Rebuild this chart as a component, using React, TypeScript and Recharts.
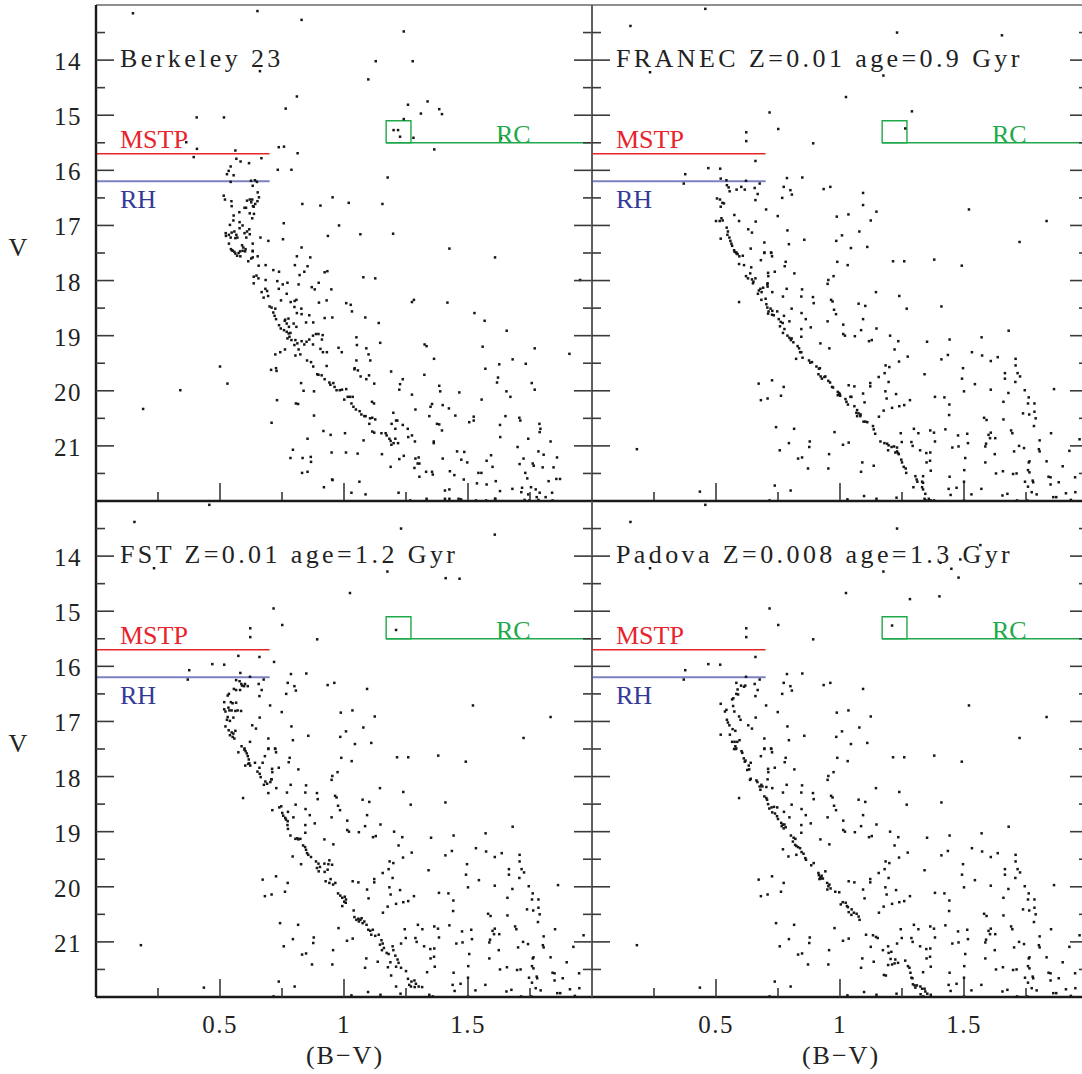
import React from 'react';
import { ScatterChart, Scatter, XAxis, YAxis, ReferenceLine, ReferenceArea } from 'recharts';

// ---------- axis / annotation values ----------
const X_DOMAIN: [number, number] = [0, 2];
const Y_DOMAIN: [number, number] = [13, 22];
const X_TICKS = [0.25, 0.5, 0.75, 1, 1.25, 1.5, 1.75];
const X_TICK_LABELS: Record<string, string> = { '0.5': '0.5', '1': '1', '1.5': '1.5' };
const Y_TICKS = [13.5, 14, 14.5, 15, 15.5, 16, 16.5, 17, 17.5, 18, 18.5, 19, 19.5, 20, 20.5, 21, 21.5];
const Y_TICK_LABELS: Record<string, string> = { '14': '14', '15': '15', '16': '16', '17': '17', '18': '18', '19': '19', '20': '20', '21': '21' };

const MSTP_V = 15.7;
const RH_V = 16.2;
const LINE_END_COLOR = 0.7;
const RC_BOX = { x1: 1.17, x2: 1.27, v1: 15.1, v2: 15.5 };
const RC_LINE_END = 2.0;

const TITLES = ['Berkeley 23', 'FRANEC Z=0.01 age=0.9 Gyr', 'FST Z=0.01 age=1.2 Gyr', 'Padova Z=0.008 age=1.3 Gyr'];

// ---------- data: [B-V, V] ----------
const BERKELEY: number[][] = [
  [0.149,13.15],[0.651,13.11],[0.829,13.27],[1.241,13.48],[1.128,14.02],[1.277,14.02],[0.661,14.20],[1.098,14.35],[0.810,14.66],[0.765,14.88],[1.258,14.81],[1.337,14.75],[1.310,14.97],[1.384,14.89],[1.395,14.98],[1.241,15.07],[1.200,15.27],[1.218,15.27],[1.226,15.39],[1.280,15.41],[1.633,15.42],[1.364,15.62],[0.406,15.04],[0.516,15.04],[0.364,15.49],[0.407,15.61],[0.394,15.76],[0.562,15.64],[0.737,15.58],[0.758,15.57],[0.813,15.69],[0.733,15.99],[0.788,15.99],[0.667,15.78],[0.566,15.79],[0.583,15.84],[0.617,15.87],[0.543,15.93],[0.535,16.01],[0.528,16.07],[0.555,16.09],[0.543,16.21],[0.625,16.19],[0.641,16.18],[0.649,16.21],[0.632,16.28],[0.652,16.40],[0.657,16.49],[0.651,16.56],[0.642,16.61],[0.636,16.66],[0.630,16.53],[0.626,16.58],[0.633,16.65],[0.515,16.46],[0.520,16.53],[0.546,16.56],[0.547,16.65],[0.609,16.55],[0.620,16.53],[0.599,16.68],[0.605,16.68],[0.620,16.78],[0.637,16.79],[0.630,16.87],[0.555,16.82],[0.554,16.91],[0.578,16.76],[0.579,16.94],[0.540,16.99],[0.547,17.13],[0.558,17.11],[0.566,17.17],[0.570,17.22],[0.562,17.23],[0.579,17.05],[0.591,17.00],[0.599,17.14],[0.609,17.11],[0.618,17.07],[0.620,17.16],[0.606,17.22],[0.523,17.14],[0.524,17.19],[0.536,17.17],[0.543,17.22],[0.536,17.33],[0.544,17.43],[0.551,17.46],[0.562,17.51],[0.575,17.50],[0.589,17.36],[0.594,17.40],[0.603,17.43],[0.632,17.33],[0.632,17.46],[0.663,17.22],[0.695,17.28],[0.754,17.25],[0.757,16.96],[0.832,16.61],[0.905,16.64],[0.954,16.49],[1.019,16.59],[1.155,16.61],[1.176,16.13],[0.980,17.00],[0.935,17.19],[1.066,17.16],[1.198,17.15],[0.829,17.40],[1.425,17.42],
  [0.548,17.45],[0.558,17.48],[0.581,17.47],[0.591,17.46],[0.601,17.47],[0.632,17.47],[0.569,17.55],[0.582,17.56],[0.614,17.65],[0.626,17.60],[0.632,17.58],[0.652,17.56],[0.810,17.56],[0.864,17.58],[0.656,17.73],[0.684,17.72],[0.715,17.81],[0.738,17.84],[0.802,17.72],[0.821,17.90],[0.840,17.84],[0.853,17.74],[0.922,17.85],[0.933,17.83],[1.078,17.94],[1.126,17.96],[1.609,17.58],[0.636,17.93],[0.647,17.91],[0.655,17.96],[0.636,18.05],[0.684,17.99],[0.731,18.01],[0.753,18.07],[0.772,18.04],[0.668,18.21],[0.683,18.15],[0.690,18.19],[0.676,18.31],[0.694,18.28],[0.737,18.15],[0.769,18.24],[0.817,18.07],[0.870,18.12],[0.882,18.16],[0.898,18.04],[0.949,18.16],[0.700,18.47],[0.708,18.49],[0.715,18.58],[0.723,18.51],[0.746,18.36],[0.785,18.39],[0.801,18.37],[0.808,18.35],[0.828,18.51],[0.800,18.48],[0.810,18.59],[0.829,18.61],[0.899,18.40],[0.930,18.36],[0.922,18.68],[0.953,18.67],[1.009,18.41],[1.027,18.44],[1.032,18.56],[1.086,18.67],[1.140,18.77],[1.274,18.39],[1.282,18.35],[1.417,18.40],[1.526,18.59],[1.567,18.73],[1.656,18.91],[0.720,18.64],[0.726,18.70],[0.738,18.81],[0.745,18.87],[0.761,18.73],[0.763,18.71],[0.769,18.78],[0.776,18.69],[0.758,18.90],[0.778,18.84],[0.797,18.78],[0.808,18.84],[0.847,18.76],[0.860,18.63],[0.876,18.76],[0.769,18.93],[0.777,18.96],[0.784,18.95],[0.772,19.05],[0.780,19.02],[0.788,19.08],[0.804,19.08],[0.812,19.14],[0.800,19.17],[0.817,19.25],[0.829,19.10],[0.840,19.16],[0.849,19.11],[0.860,19.07],[0.875,19.00],[0.887,18.97],[0.897,18.97],[0.914,18.99],[0.911,19.07],[0.875,19.16],[0.723,19.34],[0.743,19.30],[0.762,19.25],[0.804,19.36],[0.824,19.34],[0.851,19.45],[0.867,19.48],[0.876,19.56],[0.892,19.70],[0.897,19.71],[0.910,19.72],[0.930,19.55],[0.905,19.24],[0.915,19.30],[0.931,19.30],[0.978,19.22],[0.991,19.30],[1.050,19.03],[1.052,19.17],[1.090,19.23],[1.099,19.34],[1.106,19.45],[1.050,19.45],[1.043,19.59],[1.042,19.61],[1.056,19.63],[1.067,19.74],[1.090,19.79],[1.101,19.72],[1.122,19.87],[1.146,19.13],[1.190,19.65],[1.226,19.88],[1.237,19.79],[1.223,19.98],[1.274,20.07],[1.288,20.34],[1.325,19.16],[1.333,19.19],[1.363,19.42],[1.324,19.71],[0.500,19.56],[0.530,19.87],[0.340,19.99],[0.190,20.33],[0.706,19.62],[0.726,19.59],[0.728,19.64],[0.730,20.17],[0.708,20.58],[0.827,19.86],[0.837,20.00],[0.806,20.23],[0.815,20.24],[0.879,20.01],[0.879,20.45],[0.917,20.73],[0.946,20.80],[0.950,21.12],[0.853,20.87],[0.866,21.20],[0.867,21.29],[0.833,21.22],[0.831,21.49],[0.853,21.47],[0.919,21.75],[0.952,21.61],[0.954,21.62],[0.794,21.07],[0.784,21.22],
  [0.922,19.79],[0.941,19.85],[0.945,19.89],[0.957,19.86],[0.962,19.93],[0.970,19.99],[0.983,19.99],[0.992,19.98],[1.009,19.97],[1.001,20.16],[1.015,20.11],[1.024,20.11],[1.035,20.11],[1.030,20.23],[1.038,20.29],[1.048,20.34],[1.063,20.37],[1.070,20.43],[1.082,20.46],[1.087,20.46],[1.105,20.50],[1.114,20.49],[1.126,20.52],[1.102,20.60],[1.114,20.74],[1.122,20.76],[1.151,20.77],[1.168,20.77],[1.172,20.81],[1.183,20.87],[1.188,20.91],[1.191,20.98],[1.200,20.95],[1.207,20.87],[1.218,20.95],[1.210,20.54],[1.215,20.54],[1.199,20.40],[1.192,20.60],[1.207,20.69],[1.237,20.62],
  [1.113,20.20],[1.121,20.23],[1.079,20.90],[1.087,21.88],[1.030,21.85],[1.062,21.65],[1.004,20.77],[1.008,21.12],[1.055,21.14],[1.153,21.15],[1.188,21.38],[1.223,21.24],[1.220,21.85],[1.241,21.18],[1.257,20.69],[1.274,20.81],[1.259,20.84],[1.286,20.92],[1.288,21.23],[1.297,21.32],[1.304,21.32],[1.304,21.56],[1.284,21.40],[1.301,21.21],[1.331,21.47],[1.344,20.46],[1.349,20.29],[1.355,20.24],[1.362,20.92],[1.362,20.95],[1.355,21.47],[1.358,21.52],[1.375,20.60],[1.384,20.61],[1.395,20.72],[1.398,21.23],[1.384,19.91],[1.388,20.01],[1.398,20.26],[1.423,20.32],[1.427,21.46],[1.425,21.79],[1.407,21.81],[1.445,21.53],[1.465,20.03],[1.449,20.45],[1.456,21.10],[1.473,21.25],[1.483,21.61],[1.485,21.11],[1.497,21.30],[1.505,20.57],[1.523,20.47],[1.523,20.54],
  [1.542,21.49],[1.554,21.49],[1.536,21.68],[1.555,20.16],[1.559,19.20],[1.570,19.60],[1.575,21.27],[1.593,21.17],[1.599,21.38],[1.575,21.70],[1.612,21.64],[1.609,21.96],[1.617,19.85],[1.621,19.76],[1.626,19.52],[1.629,20.62],[1.630,20.84],[1.629,21.82],[1.651,20.46],[1.655,20.01],[1.671,20.11],[1.680,19.43],[1.679,21.78],[1.700,21.02],[1.707,20.49],[1.711,20.54],[1.708,21.33],[1.718,21.76],[1.715,21.84],[1.733,19.51],[1.739,21.59],[1.743,20.87],[1.743,21.88],[1.757,19.86],[1.761,21.32],[1.765,21.36],[1.769,19.98],[1.769,19.23],[1.784,21.10],[1.788,20.60],[1.792,20.69],[1.789,20.75],[1.789,21.85],[1.801,21.39],[1.805,21.16],[1.825,21.64],[1.833,20.92],[1.845,21.39],[1.839,21.85],[1.856,21.60],[1.859,21.21],[1.871,21.60],[1.909,19.33],[1.952,17.99],[1.724,21.23],[1.731,21.49],[1.728,21.98],[1.747,21.99],[1.784,21.98],[1.754,21.75],[1.773,21.79],[1.777,21.93],[1.813,21.93],[1.841,21.99],
  [1.267,21.99],[1.333,21.96],[1.407,21.96],[1.425,21.96],[1.462,21.96],[1.472,21.97],[1.532,21.99],[1.573,21.99],[1.610,21.96],
];

// field stars shared by the three synthetic CMDs
const FIELD: number[][] = [
  [0.155,13.38],[0.457,13.07],[1.230,13.50],[0.234,14.22],[1.175,14.28],[1.024,14.67],[0.716,14.95],[0.751,15.25],[0.622,15.31],[0.622,15.47],[0.892,15.51],[0.659,15.83],[0.469,15.96],[0.517,15.97],[0.376,16.07],[0.370,16.24],[0.786,16.14],[0.848,16.13],[0.773,16.30],[0.800,16.36],[0.806,16.44],[0.767,16.50],[0.934,16.34],[0.961,16.30],[1.093,16.41],[1.520,16.71],[1.833,16.92],[0.702,16.71],[0.749,16.83],[0.987,16.84],[1.034,16.80],[1.124,16.91],[0.660,16.93],[0.788,17.09],[1.078,17.11],[1.008,17.18],[0.985,17.28],[0.856,17.26],[0.794,17.34],[1.044,17.41],[1.110,17.39],[1.724,17.30],[0.695,17.31],[0.722,17.49],[0.695,17.49],[0.630,17.07],[0.645,17.13],[0.656,16.32],[0.668,16.43],[0.659,16.54],[0.676,16.24],[0.621,16.19],
  [0.695,17.50],[0.723,17.50],[0.726,17.56],[0.681,17.63],[0.781,17.66],[0.777,17.74],[0.737,17.84],[0.710,17.86],[0.711,17.92],[0.816,17.87],[0.989,17.66],[1.031,17.72],[1.214,17.65],[1.259,17.65],[1.380,17.62],[1.491,17.73],[0.953,17.99],[0.950,18.06],[0.974,17.92],[0.708,18.05],[0.785,18.15],[0.847,18.16],[0.727,18.21],[0.593,18.39],[0.770,18.29],[0.844,18.29],[0.891,18.30],[0.894,18.41],[0.964,18.35],[0.970,18.38],[1.145,18.21],[1.239,18.28],[1.075,18.42],[1.102,18.46],[1.409,18.47],[1.269,18.51],[0.976,18.53],[0.984,18.61],[0.845,18.59],[0.805,18.51],[0.774,18.64],[0.796,18.74],[0.862,18.70],[0.950,18.74],[1.093,18.70],[1.013,18.80],[0.844,18.88],[0.882,18.85],[1.085,18.90],[1.147,18.87],[1.013,18.97],[1.020,19.00],[1.060,19.01],[0.844,19.02],[0.921,19.14],[0.957,19.23],[1.117,19.10],[1.128,19.08],[1.202,19.00],[1.235,19.10],[1.220,19.25],[1.351,19.11],[1.442,19.07],[1.680,18.91],[1.571,19.03],[1.532,19.30],[1.573,19.36],[1.608,19.46],[1.636,19.39],[1.708,19.42],[1.708,19.54],[1.665,19.68],[1.665,19.78],[1.716,19.68],[1.726,19.74],[1.707,19.84],[1.745,19.99],[1.863,19.97],[1.679,20.04],[1.761,20.12],[1.758,20.23],[1.784,20.23],[1.659,20.20],[1.409,19.43],[1.435,19.35],[1.273,19.38],[1.238,19.47],[1.184,19.54],[1.199,19.57],[1.156,19.75],[1.180,19.68],[1.196,19.84],[1.341,19.70],[1.496,19.59],[1.492,19.78],[1.500,20.01],[1.544,19.88],[1.608,19.98],[1.383,20.11],[1.421,20.12],[1.441,20.25],[1.440,20.44],[1.282,20.17],[1.259,20.26],[1.239,20.28],[1.210,20.31],[1.226,20.06],[1.183,20.01],[1.188,20.14],[1.122,19.86],[1.122,19.92],[1.093,20.05],[1.099,20.21],[1.157,20.47],[1.176,20.36],[1.058,19.92],[1.035,19.90],[0.978,20.75],[1.012,20.98],[1.035,20.94],[0.956,21.15],[0.953,21.41],[0.871,21.41],[0.831,21.23],[0.847,21.21],[0.878,20.92],[0.876,21.02],[0.794,20.95],[0.757,21.08],[0.815,20.69],[0.742,20.66],[0.726,19.81],[0.762,20.09],[0.773,19.93],[0.672,19.87],[0.681,20.17],[0.708,20.14],[0.181,21.06],[0.435,21.83],[0.737,21.72],[0.716,21.99],[0.801,21.81],[1.030,21.97],[1.097,21.91],[1.085,21.47],[1.090,21.30],[1.136,21.36],[1.147,21.96],[1.228,21.94],[1.366,21.45],[1.335,21.55],[1.349,21.30],[1.363,21.27],[1.348,21.13],[1.364,21.12],[1.323,21.08],[1.293,21.00],[1.298,20.69],[1.316,20.77],[1.288,20.93],[1.245,20.77],[1.249,20.93],[1.230,21.03],[1.364,20.72],[1.379,20.76],[1.383,20.92],[1.425,20.70],[1.453,21.03],[1.476,20.81],[1.478,21.01],[1.513,20.78],[1.516,20.95],[1.505,21.22],[1.501,21.44],[1.500,21.65],[1.442,21.56],[1.438,21.78],[1.446,21.89],[1.470,21.76],[1.500,21.99],[1.530,21.88],[1.570,21.78],[1.586,21.30],[1.589,20.96],[1.586,21.01],[1.599,20.80],[1.608,20.76],[1.605,20.86],[1.626,20.86],[1.624,21.15],[1.629,21.50],[1.657,21.46],[1.655,21.90],[1.675,21.87],[1.581,20.49],[1.591,20.53],[1.659,20.52],[1.690,20.72],[1.695,20.77],[1.702,21.10],[1.722,21.00],[1.742,21.04],[1.738,20.41],[1.763,20.43],[1.784,20.38],[1.789,20.50],[1.782,20.64],[1.805,20.90],[1.802,21.06],[1.805,21.10],[1.761,21.30],[1.764,21.28],[1.758,21.44],[1.764,21.48],[1.698,21.51],[1.712,21.50],[1.746,21.65],[1.758,21.74],[1.777,21.63],[1.779,21.66],[1.773,21.84],[1.793,21.88],[1.755,21.99],[1.714,21.99],[1.833,21.28],[1.851,20.77],[1.898,21.37],[1.925,21.09],[1.966,20.88],[1.948,21.57],[1.882,21.66],[1.841,21.56],[1.849,21.57],[1.849,21.70],[1.911,21.86],[1.949,21.84],[1.860,21.93],[1.872,21.93],[1.931,21.98],
];

const FRANEC_SEQ: number[][] = [
  [1.653,13.55],[1.290,14.93],[1.263,15.24],[1.093,16.63],[1.147,16.75],
  [0.519,16.15],[0.542,16.18],[0.544,16.27],[0.551,16.31],[0.555,16.38],[0.583,16.35],[0.602,16.30],[0.616,16.35],[0.504,16.51],[0.516,16.53],[0.526,16.59],[0.532,16.60],[0.519,16.66],[0.500,16.92],[0.515,16.92],[0.522,16.87],[0.527,16.91],[0.574,16.81],[0.593,16.92],[0.543,17.04],[0.548,17.11],[0.546,17.17],[0.554,17.22],[0.558,17.28],[0.562,17.33],[0.565,17.37],[0.573,17.45],[0.582,17.49],[0.587,17.52],[0.519,17.24],[0.640,17.42],
  [0.575,17.48],[0.583,17.51],[0.594,17.56],[0.608,17.55],[0.593,17.70],[0.613,17.72],[0.642,17.76],[0.621,17.92],[0.629,17.96],[0.638,17.87],[0.645,17.98],[0.651,18.02],[0.659,17.96],[0.649,18.05],[0.669,18.24],[0.673,18.18],[0.679,18.15],[0.684,18.21],[0.690,18.13],[0.683,18.35],[0.707,18.07],[0.708,18.11],[0.700,18.33],[0.703,18.43],[0.707,18.49],[0.712,18.56],[0.720,18.51],[0.710,18.60],[0.726,18.62],[0.733,18.63],[0.727,18.55],[0.747,18.56],[0.753,18.70],[0.761,18.75],[0.758,18.83],[0.769,18.77],[0.776,18.88],[0.770,18.95],[0.788,19.00],[0.796,19.04],[0.805,19.05],[0.802,19.08],[0.812,19.12],[0.829,19.19],[0.835,19.23],[0.839,19.30],[0.844,19.30],[0.823,19.42],[0.849,19.40],[0.875,19.45],[0.880,19.49],[0.887,19.48],[0.905,19.56],[0.915,19.60],[0.919,19.59],[0.913,19.70],[0.922,19.74],[0.927,19.78],[0.937,19.75],[0.941,19.74],[0.953,19.82],[0.960,19.85],[0.968,19.93],[0.972,19.94],[0.991,20.02],[0.996,20.04],[0.999,20.06],[0.991,20.08],[1.001,20.09],[1.022,20.15],[1.026,20.20],[1.032,20.25],[1.042,20.11],[1.046,20.11],[1.058,20.28],[1.069,20.35],[1.066,20.40],[1.075,20.41],[1.082,20.46],[1.069,20.46],[1.083,20.43],[1.095,20.56],[1.102,20.56],[1.110,20.57],[1.133,20.64],[1.136,20.70],[1.142,20.78],[1.163,20.92],[1.179,20.95],[1.190,20.96],[1.196,20.99],[1.208,21.02],[1.218,21.01],[1.194,21.08],[1.223,21.12],[1.230,21.10],[1.237,21.15],[1.234,21.13],[1.247,21.25],[1.250,21.30],[1.257,21.38],[1.265,21.41],[1.267,21.49],[1.304,21.55],[1.309,21.61],[1.331,21.65],[1.335,21.67],[1.331,21.75],[1.335,21.79],[1.344,21.87],[1.341,21.96],[1.358,21.96],[1.366,21.99],[1.379,21.99],[1.347,21.99],[1.296,21.75],[1.312,21.65],
];

const FST_SEQ: number[][] = [
  [1.410,14.40],[1.466,14.41],[1.608,13.61],[1.210,15.34],[0.574,15.81],[0.718,15.92],
  [0.582,16.12],[0.565,16.25],[0.579,16.27],[0.586,16.32],[0.601,16.32],[0.612,16.36],[0.597,16.36],[0.589,16.35],[0.581,16.43],[0.565,16.43],[0.556,16.41],[0.536,16.50],[0.531,16.53],[0.517,16.65],[0.544,16.65],[0.551,16.67],[0.565,16.66],[0.517,16.78],[0.522,16.82],[0.534,16.75],[0.538,16.80],[0.547,16.80],[0.562,16.81],[0.571,16.80],[0.585,16.81],[0.531,16.92],[0.554,16.93],[0.528,16.97],[0.540,16.99],[0.522,17.09],[0.535,17.16],[0.547,17.20],[0.554,17.22],[0.562,17.17],[0.551,17.28],[0.540,17.25],[0.558,17.31],[0.587,17.45],[0.599,17.49],[0.621,17.37],
  [0.574,17.56],[0.598,17.51],[0.603,17.54],[0.608,17.58],[0.612,17.63],[0.616,17.69],[0.618,17.76],[0.622,17.80],[0.614,17.77],[0.602,17.80],[0.641,17.75],[0.659,17.84],[0.651,17.91],[0.660,17.95],[0.664,18.01],[0.672,17.75],[0.677,18.15],[0.683,18.09],[0.690,18.13],[0.703,18.10],[0.707,18.05],[0.695,18.30],[0.711,18.61],[0.739,18.56],[0.747,18.54],[0.751,18.66],[0.755,18.71],[0.763,18.75],[0.766,18.78],[0.773,18.81],[0.772,18.88],[0.774,18.95],[0.784,19.07],[0.804,19.13],[0.812,19.12],[0.816,19.14],[0.824,19.13],[0.793,19.45],[0.827,19.59],[0.835,19.25],[0.843,19.28],[0.847,19.33],[0.851,19.39],[0.856,19.42],[0.867,19.46],[0.887,19.54],[0.897,19.58],[0.891,19.66],[0.903,19.64],[0.898,19.72],[0.921,19.58],[0.937,19.59],[0.941,19.52],[0.952,19.60],[0.934,19.69],[0.922,19.73],[0.926,19.90],[0.941,19.93],[0.956,19.96],[0.965,19.93],[0.946,19.86],[0.976,20.12],[0.985,20.16],[0.993,20.20],[1.003,20.18],[1.008,20.23],[1.001,20.27],[0.993,20.35],[1.007,20.29],[1.039,20.43],[1.042,20.55],[1.050,20.60],[1.058,20.58],[1.066,20.60],[1.071,20.57],[1.075,20.66],[1.082,20.63],[1.091,20.69],[1.060,20.63],[1.098,20.78],[1.106,20.80],[1.116,20.78],[1.110,20.87],[1.126,20.89],[1.140,20.87],[1.151,20.97],[1.156,21.03],[1.145,21.05],[1.161,21.11],[1.153,21.15],[1.172,21.20],[1.180,21.22],[1.196,21.08],[1.199,21.15],[1.207,21.25],[1.216,21.32],[1.220,21.38],[1.210,21.45],[1.187,21.37],[1.177,21.46],[1.190,21.61],[1.230,21.47],[1.250,21.53],[1.258,21.67],[1.263,21.78],[1.272,21.72],[1.284,21.70],[1.290,21.76],[1.301,21.81],[1.315,21.82],[1.270,21.81],[1.285,21.82],[1.210,21.81],[1.344,21.96],[1.358,21.99],
];

const PADOVA_SEQ: number[][] = [
  [1.405,14.12],[1.449,14.23],[1.478,14.39],[1.485,14.06],[1.282,14.78],[1.401,14.73],[1.566,13.80],[1.210,15.26],
  [0.582,16.30],[0.601,16.35],[0.613,16.37],[0.618,16.35],[0.587,16.42],[0.582,16.50],[0.589,16.51],[0.519,16.68],[0.565,16.60],[0.570,16.58],[0.569,16.72],[0.542,16.79],[0.536,16.82],[0.574,16.82],[0.593,16.91],[0.599,16.97],[0.544,16.97],[0.548,17.02],[0.554,17.07],[0.567,17.14],[0.578,17.17],[0.556,17.24],[0.519,17.24],[0.565,17.37],[0.575,17.37],[0.586,17.37],[0.595,17.34],[0.578,17.45],[0.582,17.49],[0.573,17.50],
  [0.579,17.50],[0.603,17.54],[0.606,17.57],[0.612,17.67],[0.616,17.73],[0.619,17.71],[0.640,17.75],[0.632,17.80],[0.626,17.88],[0.634,17.87],[0.640,18.04],[0.637,18.06],[0.663,18.07],[0.667,18.10],[0.676,18.18],[0.683,18.15],[0.687,18.18],[0.679,18.24],[0.703,18.19],[0.695,18.36],[0.703,18.39],[0.706,18.42],[0.710,18.50],[0.715,18.58],[0.724,18.56],[0.734,18.55],[0.747,18.56],[0.727,18.65],[0.738,18.67],[0.746,18.72],[0.750,18.77],[0.763,18.84],[0.769,18.87],[0.776,18.87],[0.765,18.90],[0.773,18.94],[0.781,18.92],[0.770,19.32],[0.792,19.45],[0.802,19.07],[0.813,19.11],[0.820,19.13],[0.810,19.18],[0.819,19.24],[0.824,19.26],[0.831,19.28],[0.839,19.30],[0.824,19.42],[0.845,19.37],[0.853,19.40],[0.860,19.48],[0.863,19.51],[0.884,19.61],[0.894,19.57],[0.913,19.75],[0.915,19.79],[0.921,19.83],[0.926,19.80],[0.917,19.86],[0.923,19.85],[0.931,19.85],[0.941,19.72],[0.948,19.93],[0.953,19.99],[0.957,19.96],[0.949,20.05],[0.962,20.03],[0.981,20.09],[0.997,20.10],[1.003,20.32],[1.011,20.28],[1.023,20.29],[1.028,20.35],[1.035,20.46],[1.046,20.51],[1.056,20.47],[1.067,20.49],[1.075,20.54],[1.079,20.60],[1.032,20.37],[1.047,20.41],[1.105,20.87],[1.133,20.88],[1.152,20.93],[1.145,20.91],[1.124,21.09],[1.173,21.15],[1.194,21.08],[1.196,21.20],[1.207,21.18],[1.204,21.31],[1.223,21.32],[1.210,21.41],[1.220,21.39],[1.234,21.38],[1.194,21.42],[1.177,21.60],[1.185,21.61],[1.263,21.34],[1.274,21.44],[1.280,21.47],[1.284,21.56],[1.288,21.65],[1.292,21.66],[1.294,21.77],[1.301,21.79],[1.310,21.79],[1.324,21.81],[1.331,21.85],[1.341,21.85],[1.344,21.90],[1.352,21.94],[1.366,21.96],[1.304,21.83],[1.325,21.95],[1.336,21.99],
];

// ---------- styling ----------
const FONT = '"Liberation Serif", "DejaVu Serif", serif';
const AXIS_COLOR = '#1a1a1a';
const DIVIDER_COLOR = '#5a5a5a';
const TICK_COLOR = '#3a3a3a';
const RED = '#e8242c';
const BLUE_LINE = '#7c80c0';
const BLUE_TEXT = '#343a96';
const GREEN = '#1fa84a';
const PLOT = 496;

const toPts = (arr: number[][]) => arr.map(([x, y]) => ({ x, y }));

const isMajorX = (v: number) => Math.abs(v * 2 - Math.round(v * 2)) < 1e-6;
const isMajorY = (v: number) => Math.abs(v - Math.round(v)) < 1e-6;

const makeTick = (side: 'bottom' | 'top' | 'left' | 'right', showLabel: boolean) => (props: any) => {
  const { x, y, payload } = props;
  const v = payload.value as number;
  const horizontal = side === 'bottom' || side === 'top';
  const major = horizontal ? isMajorX(v) : isMajorY(v);
  const len = major ? 18 : 9;
  let x2 = x, y2 = y;
  if (side === 'bottom') y2 = y - len;
  if (side === 'top') y2 = y + len;
  if (side === 'left') x2 = x + len;
  if (side === 'right') x2 = x - len;
  const key = String(v);
  let label: React.ReactNode = null;
  if (showLabel) {
    if (side === 'bottom' && X_TICK_LABELS[key]) {
      label = (
        <text x={x} y={y + 36} textAnchor="middle" fontFamily={FONT} fontSize={25} letterSpacing={1.5} fill="#222">
          {X_TICK_LABELS[key]}
        </text>
      );
    }
    if (side === 'left' && Y_TICK_LABELS[key]) {
      label = (
        <text x={x - 14} y={y + 10} textAnchor="end" fontFamily={FONT} fontSize={25} letterSpacing={1.5} fill="#222">
          {Y_TICK_LABELS[key]}
        </text>
      );
    }
  }
  return (
    <g>
      <line x1={x} y1={y} x2={x2} y2={y2} stroke={TICK_COLOR} strokeWidth={1.6} />
      {label}
    </g>
  );
};

const Dot = (props: any) => {
  const { cx, cy } = props;
  if (cx == null || cy == null) return null;
  return <rect x={cx - 1.25} y={cy - 1.25} width={2.5} height={2.5} fill="#161616" />;
};

type PanelProps = {
  stars: number[][];
  plotLeft: number;
  plotTop: number;
  isTop: boolean;
  isLeft: boolean;
};

const Panel = ({ stars, plotLeft, plotTop, isTop, isLeft }: PanelProps) => {
  const showX = !isTop;
  const showY = isLeft;
  const leftW = isLeft ? 96 : 1;
  const rightW = 1;
  const topH = 1;
  const bottomH = isTop ? 1 : 77;
  const marginTop = isTop ? 4 : 0;
  const width = leftW + PLOT + rightW;
  const height = marginTop + topH + PLOT + bottomH;
  const chartLeft = plotLeft - leftW;
  const chartTop = plotTop - topH - marginTop;
  const data = toPts(stars);
  const leftLine = isLeft ? { stroke: AXIS_COLOR, strokeWidth: 2.4 } : { stroke: DIVIDER_COLOR, strokeWidth: 1.6 };
  const rightLine = isLeft ? { stroke: DIVIDER_COLOR, strokeWidth: 1.6 } : { stroke: DIVIDER_COLOR, strokeWidth: 1.6 };
  const topLine = isTop ? { stroke: '#6a6a6a', strokeWidth: 1.6 } : { stroke: AXIS_COLOR, strokeWidth: 2.4 };
  const bottomLine = { stroke: AXIS_COLOR, strokeWidth: 2.4 };
  return (
    <div style={{ position: 'absolute', left: chartLeft, top: chartTop }}>
      <ScatterChart width={width} height={height} margin={{ top: marginTop, right: 0, bottom: 0, left: 0 }}>
        <XAxis
          xAxisId="b"
          type="number"
          dataKey="x"
          domain={X_DOMAIN}
          ticks={X_TICKS}
          interval={0}
          allowDataOverflow
          orientation="bottom"
          height={bottomH}
          tickSize={0}
          tickMargin={0}
          tickLine={false}
          axisLine={bottomLine}
          tick={makeTick('bottom', showX)}
        />
        <XAxis
          xAxisId="t"
          type="number"
          domain={X_DOMAIN}
          ticks={X_TICKS}
          interval={0}
          allowDataOverflow
          orientation="top"
          height={topH}
          tickSize={0}
          tickMargin={0}
          tickLine={false}
          axisLine={topLine}
          tick={makeTick('top', false)}
        />
        <YAxis
          yAxisId="l"
          type="number"
          dataKey="y"
          domain={Y_DOMAIN}
          reversed
          ticks={Y_TICKS}
          interval={0}
          allowDataOverflow
          orientation="left"
          width={leftW}
          tickSize={0}
          tickMargin={0}
          tickLine={false}
          axisLine={leftLine}
          tick={makeTick('left', showY)}
        />
        <YAxis
          yAxisId="r"
          type="number"
          domain={Y_DOMAIN}
          reversed
          ticks={Y_TICKS}
          interval={0}
          allowDataOverflow
          orientation="right"
          width={rightW}
          tickSize={0}
          tickMargin={0}
          tickLine={false}
          axisLine={rightLine}
          tick={makeTick('right', false)}
        />
        <ReferenceLine
          xAxisId="b"
          yAxisId="l"
          segment={[{ x: X_DOMAIN[0], y: MSTP_V }, { x: LINE_END_COLOR, y: MSTP_V }]}
          stroke={RED}
          strokeWidth={1.6}
        />
        <ReferenceLine
          xAxisId="b"
          yAxisId="l"
          segment={[{ x: X_DOMAIN[0], y: RH_V }, { x: LINE_END_COLOR, y: RH_V }]}
          stroke={BLUE_LINE}
          strokeWidth={2}
        />
        <ReferenceArea
          xAxisId="b"
          yAxisId="l"
          x1={RC_BOX.x1}
          x2={RC_BOX.x2}
          y1={RC_BOX.v1}
          y2={RC_BOX.v2}
          fill="none"
          fillOpacity={0}
          stroke={GREEN}
          strokeWidth={1.4}
        />
        <ReferenceLine
          xAxisId="b"
          yAxisId="l"
          segment={[{ x: RC_BOX.x1, y: RC_BOX.v2 }, { x: RC_LINE_END, y: RC_BOX.v2 }]}
          stroke={GREEN}
          strokeWidth={1.4}
        />
        <Scatter xAxisId="b" yAxisId="l" data={data} shape={Dot} isAnimationActive={false} />
      </ScatterChart>
    </div>
  );
};

const PanelText = ({ title, ox, oy }: { title: string; ox: number; oy: number }) => (
  <g>
    <text x={ox + 24} y={oy + 62} fontFamily={FONT} fontSize={26} letterSpacing={3.4} fill="#222">{title}</text>
    <text x={ox + 24} y={oy + 143} fontFamily={FONT} fontSize={26} fill={RED}>MSTP</text>
    <text x={ox + 24} y={oy + 203} fontFamily={FONT} fontSize={26} fill={BLUE_TEXT}>RH</text>
    <text x={ox + 400} y={oy + 138} fontFamily={FONT} fontSize={26} fill={GREEN}>RC</text>
  </g>
);

export default function App() {
  const panels = [
    { stars: BERKELEY, plotLeft: 96, plotTop: 5, isTop: true, isLeft: true },
    { stars: [...FIELD, ...FRANEC_SEQ], plotLeft: 592, plotTop: 5, isTop: true, isLeft: false },
    { stars: [...FIELD, ...FST_SEQ], plotLeft: 96, plotTop: 501, isTop: false, isLeft: true },
    { stars: [...FIELD, ...PADOVA_SEQ], plotLeft: 592, plotTop: 501, isTop: false, isLeft: false },
  ];
  return (
    <div style={{ position: 'absolute', left: 0, top: 0, width: 1082, height: 1074, overflow: 'hidden', background: '#fff' }}>
      {panels.map((p, i) => (
        <Panel key={i} stars={p.stars} plotLeft={p.plotLeft} plotTop={p.plotTop} isTop={p.isTop} isLeft={p.isLeft} />
      ))}
      <svg width={1082} height={1074} style={{ position: 'absolute', left: 0, top: 0, pointerEvents: 'none' }}>
        {panels.map((p, i) => (
          <PanelText key={i} title={TITLES[i]} ox={p.plotLeft} oy={p.plotTop} />
        ))}
        <text x={18} y={256} textAnchor="middle" fontFamily={FONT} fontSize={26} fill="#222">V</text>
        <text x={18} y={752} textAnchor="middle" fontFamily={FONT} fontSize={26} fill="#222">V</text>
        <text x={345} y={1064} textAnchor="middle" fontFamily={FONT} fontSize={26} letterSpacing={2} fill="#222">(B−V)</text>
        <text x={841} y={1064} textAnchor="middle" fontFamily={FONT} fontSize={26} letterSpacing={2} fill="#222">(B−V)</text>
      </svg>
    </div>
  );
}
